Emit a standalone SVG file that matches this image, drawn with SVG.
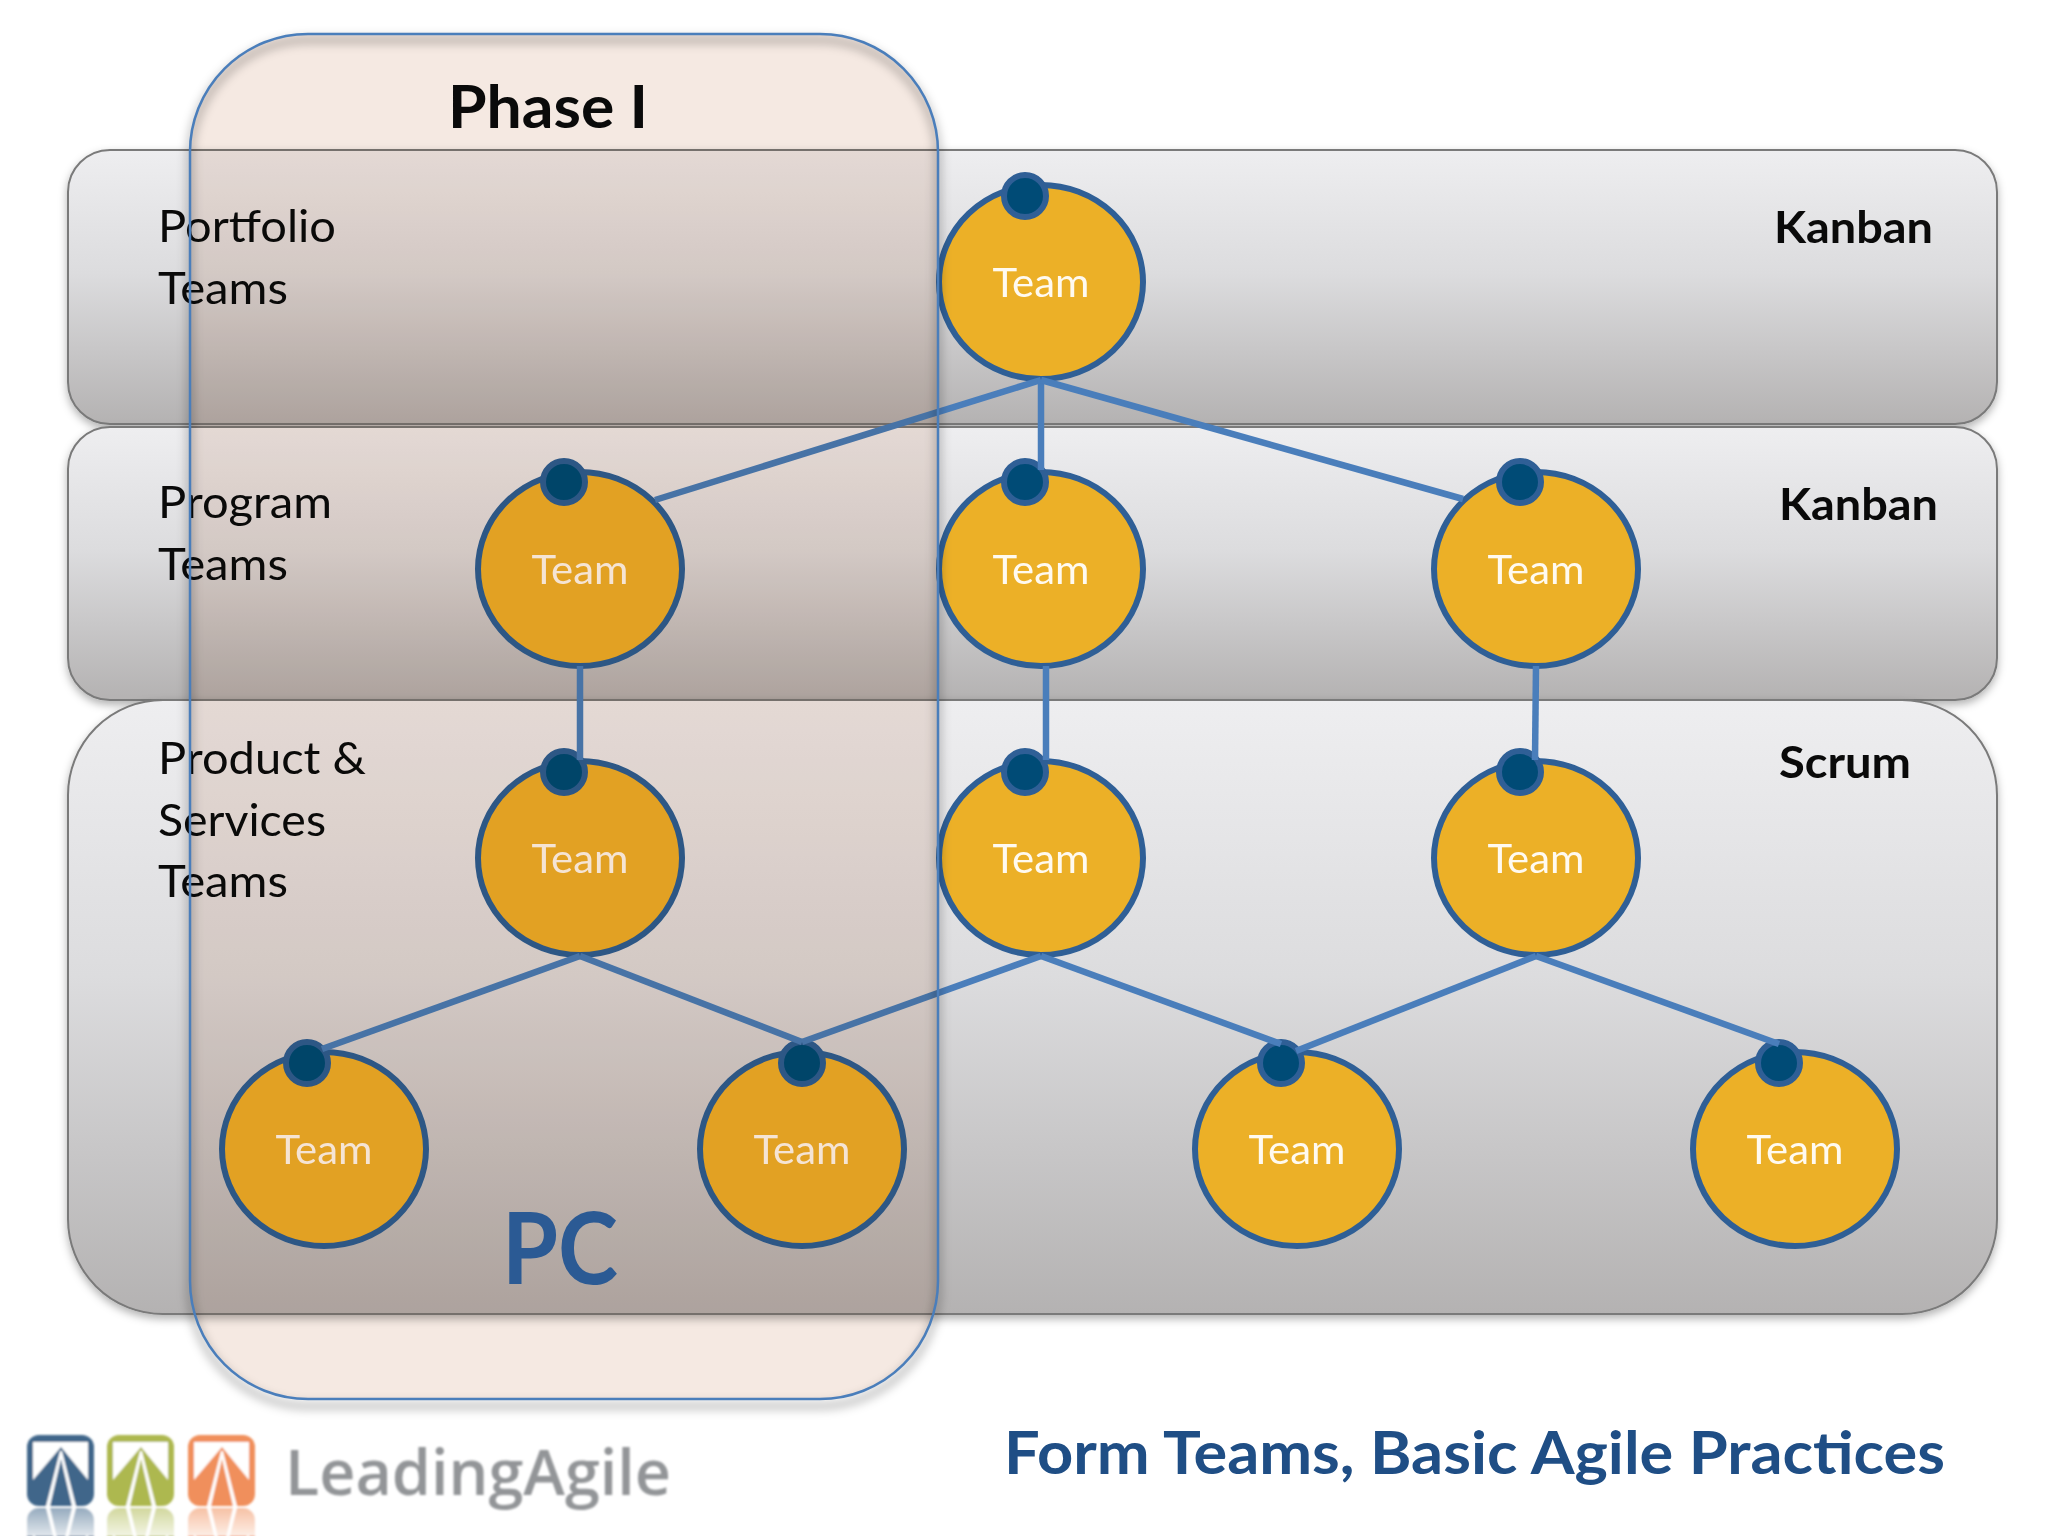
<svg xmlns="http://www.w3.org/2000/svg" xmlns:xlink="http://www.w3.org/1999/xlink" width="2048" height="1536" viewBox="0 0 2048 1536">
<style>
.band{fill:url(#bandGrad);stroke:#7a7a7a;stroke-width:2;filter:url(#shadow)}
.team{fill:#ecb027;stroke:#2f5f96;stroke-width:6}
.dot{fill:#004b76;stroke:#2f5f96;stroke-width:6}
.tl{font-family:"Lato","Liberation Sans",sans-serif;font-size:40px;fill:#fffaf0;text-anchor:middle}
.lbl{font-family:"Lato","Liberation Sans",sans-serif;font-size:44px;fill:#0a0a0a}
.bold{font-family:"Lato","Liberation Sans",sans-serif;font-weight:700;fill:#0a0a0a}
#connectors line{stroke:#4a7ebb;stroke-width:6.5;fill:none}
</style>
<defs>
<linearGradient id="bandGrad" x1="0" y1="0" x2="0" y2="1"><stop offset="0" stop-color="#eeeef0"/><stop offset="0.45" stop-color="#dcdcde"/><stop offset="1" stop-color="#b4b2b2"/></linearGradient>
<linearGradient id="fade" x1="0" y1="0" x2="0" y2="1"><stop offset="0" stop-color="#fff" stop-opacity="0.45"/><stop offset="1" stop-color="#fff" stop-opacity="0.85"/></linearGradient>
<filter id="shadow" x="-5%" y="-5%" width="110%" height="115%"><feDropShadow dx="0" dy="4" stdDeviation="4" flood-color="#000" flood-opacity="0.3"/></filter>
<filter id="soft" x="-5%" y="-5%" width="110%" height="110%"><feGaussianBlur stdDeviation="5"/></filter>
<filter id="logoBlur" x="-5%" y="-5%" width="110%" height="110%"><feGaussianBlur stdDeviation="0.8"/></filter>
<g id="icon">
<rect x="0" y="0" width="67" height="71" rx="12" fill="currentColor"/>
<path d="M6 7H61V45L34 12L6 45Z" fill="#fff"/>
<path d="M33 16L19 71H23L34 24L45 71H49L35 16Z" fill="#fff"/>
</g>
</defs>
<rect width="2048" height="1536" fill="#fff"/>
<g id="band-portfolio"><rect class="band" x="68" y="150" width="1929" height="274" rx="42"/></g>
<g id="band-program"><rect class="band" x="68" y="427" width="1929" height="273" rx="42"/></g>
<g id="band-product"><rect class="band" x="68" y="700" width="1929" height="614" rx="95"/></g>
<g id="node-portfolio"><ellipse class="team" cx="1041" cy="282" rx="102" ry="97"/><circle class="dot" cx="1025" cy="196" r="21"/><text class="tl" x="1041" y="297" textLength="97" lengthAdjust="spacingAndGlyphs">Team</text></g>
<g id="node-program-1"><ellipse class="team" cx="580" cy="569" rx="102" ry="97"/><circle class="dot" cx="564" cy="482" r="21"/><text class="tl" x="580" y="584" textLength="97" lengthAdjust="spacingAndGlyphs">Team</text></g>
<g id="node-program-2"><ellipse class="team" cx="1041" cy="569" rx="102" ry="97"/><circle class="dot" cx="1025" cy="482" r="21"/><text class="tl" x="1041" y="584" textLength="97" lengthAdjust="spacingAndGlyphs">Team</text></g>
<g id="node-program-3"><ellipse class="team" cx="1536" cy="569" rx="102" ry="97"/><circle class="dot" cx="1520" cy="482" r="21"/><text class="tl" x="1536" y="584" textLength="97" lengthAdjust="spacingAndGlyphs">Team</text></g>
<g id="node-product-1"><ellipse class="team" cx="580" cy="858" rx="102" ry="97"/><circle class="dot" cx="564" cy="772" r="21"/><text class="tl" x="580" y="873" textLength="97" lengthAdjust="spacingAndGlyphs">Team</text></g>
<g id="node-product-2"><ellipse class="team" cx="1041" cy="858" rx="102" ry="97"/><circle class="dot" cx="1025" cy="772" r="21"/><text class="tl" x="1041" y="873" textLength="97" lengthAdjust="spacingAndGlyphs">Team</text></g>
<g id="node-product-3"><ellipse class="team" cx="1536" cy="858" rx="102" ry="97"/><circle class="dot" cx="1520" cy="772" r="21"/><text class="tl" x="1536" y="873" textLength="97" lengthAdjust="spacingAndGlyphs">Team</text></g>
<g id="node-sub-1"><ellipse class="team" cx="324" cy="1149" rx="102" ry="97"/><circle class="dot" cx="307" cy="1063" r="21"/><text class="tl" x="324" y="1164" textLength="97" lengthAdjust="spacingAndGlyphs">Team</text></g>
<g id="node-sub-2"><ellipse class="team" cx="802" cy="1149" rx="102" ry="97"/><circle class="dot" cx="802" cy="1063" r="21"/><text class="tl" x="802" y="1164" textLength="97" lengthAdjust="spacingAndGlyphs">Team</text></g>
<g id="node-sub-3"><ellipse class="team" cx="1297" cy="1149" rx="102" ry="97"/><circle class="dot" cx="1281" cy="1063" r="21"/><text class="tl" x="1297" y="1164" textLength="97" lengthAdjust="spacingAndGlyphs">Team</text></g>
<g id="node-sub-4"><ellipse class="team" cx="1795" cy="1149" rx="102" ry="97"/><circle class="dot" cx="1779" cy="1063" r="21"/><text class="tl" x="1795" y="1164" textLength="97" lengthAdjust="spacingAndGlyphs">Team</text></g>
<g id="connectors">
<line x1="1041" y1="380" x2="655" y2="500"/>
<line x1="1041" y1="380" x2="1041" y2="470"/>
<line x1="1041" y1="380" x2="1463" y2="499"/>
<line x1="580" y1="666" x2="580" y2="760"/>
<line x1="1046" y1="666" x2="1046" y2="760"/>
<line x1="1536" y1="666" x2="1535" y2="760"/>
<line x1="580" y1="956" x2="322" y2="1049"/>
<line x1="580" y1="956" x2="802" y2="1042"/>
<line x1="1041" y1="956" x2="802" y2="1042"/>
<line x1="1041" y1="956" x2="1281" y2="1044"/>
<line x1="1536" y1="956" x2="1296" y2="1051"/>
<line x1="1536" y1="956" x2="1779" y2="1044"/>
</g>
<g id="labels">
<text class="lbl" x="158" y="242" textLength="178" lengthAdjust="spacingAndGlyphs">Portfolio</text><text class="lbl" x="158" y="304" textLength="130" lengthAdjust="spacingAndGlyphs">Teams</text>
<text class="lbl" x="158" y="518" textLength="174" lengthAdjust="spacingAndGlyphs">Program</text><text class="lbl" x="158" y="580" textLength="130" lengthAdjust="spacingAndGlyphs">Teams</text>
<text class="lbl" x="158" y="774" textLength="208" lengthAdjust="spacingAndGlyphs">Product &amp;</text><text class="lbl" x="158" y="836" textLength="168" lengthAdjust="spacingAndGlyphs">Services</text><text class="lbl" x="158" y="897" textLength="130" lengthAdjust="spacingAndGlyphs">Teams</text>
<text class="bold" x="1774" y="243" font-size="44" textLength="159" lengthAdjust="spacingAndGlyphs">Kanban</text>
<text class="bold" x="1779" y="520" font-size="44" textLength="159" lengthAdjust="spacingAndGlyphs">Kanban</text>
<text class="bold" x="1779" y="778" font-size="44" textLength="132" lengthAdjust="spacingAndGlyphs">Scrum</text>
</g>
<g id="phase-shadow"><rect x="190" y="40" width="748" height="1366" rx="118" fill="none" stroke="#000" stroke-opacity="0.22" stroke-width="8" filter="url(#soft)"/></g>
<g id="phase">
<rect x="190" y="34" width="748" height="1365" rx="118" fill="#f5e9e2" style="mix-blend-mode:multiply"/>
<rect x="190" y="34" width="748" height="1365" rx="118" fill="none" stroke="#4a7ebb" stroke-width="2.5"/>
<text class="bold" x="448" y="128" font-size="60" textLength="200" lengthAdjust="spacingAndGlyphs">Phase I</text>
<text class="bold" x="502" y="1284" font-size="100" textLength="116" lengthAdjust="spacingAndGlyphs" style="fill:#2b5a94">PC</text>
</g>
<g id="title"><text class="bold" x="1004" y="1474" font-size="60" textLength="941" lengthAdjust="spacingAndGlyphs" style="fill:#1f4e85">Form Teams, Basic Agile Practices</text></g>
<g id="logo" filter="url(#logoBlur)">
<use href="#icon" x="27" y="1435" style="color:#40668a"/>
<use href="#icon" x="107" y="1435" style="color:#adb84f"/>
<use href="#icon" x="188" y="1435" style="color:#f08f5b"/>
<g transform="translate(0,3014) scale(1,-1)">
<use href="#icon" x="27" y="1435" style="color:#40668a"/>
<use href="#icon" x="107" y="1435" style="color:#adb84f"/>
<use href="#icon" x="188" y="1435" style="color:#f08f5b"/>
</g>
<rect x="20" y="1508" width="240" height="28" fill="url(#fade)"/>
<text x="285" y="1495" font-family="Open Sans, sans-serif" font-weight="600" font-size="64" fill="#939598" textLength="386" lengthAdjust="spacingAndGlyphs">LeadingAgile</text>
</g>
</svg>
